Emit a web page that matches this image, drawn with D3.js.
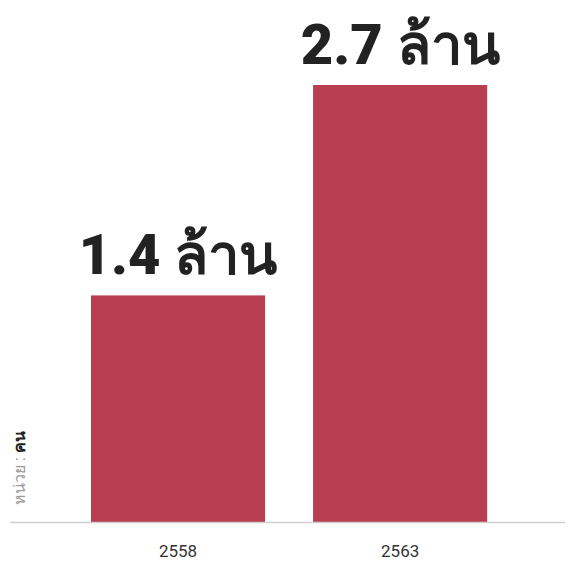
<!DOCTYPE html>
<html><head><meta charset="utf-8">
<script src="https://cdn.jsdelivr.net/npm/d3@7"></script>
<style>body{margin:0;background:#fff;} text{font-family:Roboto,"Noto Sans",sans-serif;}</style>
</head><body>
<script>
const categories = ["2558", "2563"];
const values = [1.4, 2.7];
const valueLabels = ["1.4 ล้าน", "2.7 ล้าน"];
const unitLabel = "หน่วย : ";
const unitName = "คน";

const W = 574, H = 561;
const svg = d3.select("body").append("svg").attr("width", W).attr("height", H);

const x = d3.scaleBand().domain(categories).range([46.6, 531.6]).paddingInner(0.2162).paddingOuter(0.2);
const y = d3.scaleLinear().domain([0, 2.7]).range([522, 85]);

svg.selectAll("rect.bar").data(values).join("rect")
  .attr("class", "bar")
  .attr("x", (d, i) => x(categories[i]))
  .attr("width", x.bandwidth())
  .attr("y", d => y(d))
  .attr("height", d => y(0) - y(d))
  .attr("fill", "#b83e50");

svg.append("line").attr("x1", 10).attr("x2", 565).attr("y1", y(0) + 0.5).attr("y2", y(0) + 0.5)
  .attr("stroke", "#d0d0d0").attr("stroke-width", 1.5);

const xAxis = d3.axisBottom(x).tickSize(0).tickPadding(23);
const ax = svg.append("g").attr("transform", `translate(0,${y(0)})`).call(xAxis);
ax.select(".domain").remove();
ax.selectAll("text").attr("font-size", 17).attr("fill", "#333").style("font-family", "Roboto, sans-serif");

svg.selectAll("text.vl").data(values).join("text")
  .attr("class", "vl")
  .attr("x", (d, i) => x(categories[i]) + x.bandwidth() / 2)
  .attr("y", d => y(d) - 21)
  .attr("text-anchor", "middle")
  .attr("font-size", 56)
  .attr("font-weight", 900)
  .attr("fill", "#222")
  .text((d, i) => valueLabels[i]);

const yl = svg.append("text")
  .attr("transform", "translate(25,505) rotate(-90)")
  .attr("font-size", 16)
  .attr("text-anchor", "start");
yl.append("tspan").attr("fill", "#999").text(unitLabel);
yl.append("tspan").attr("fill", "#222").attr("font-weight", 700).text(unitName);
</script>
</body></html>
